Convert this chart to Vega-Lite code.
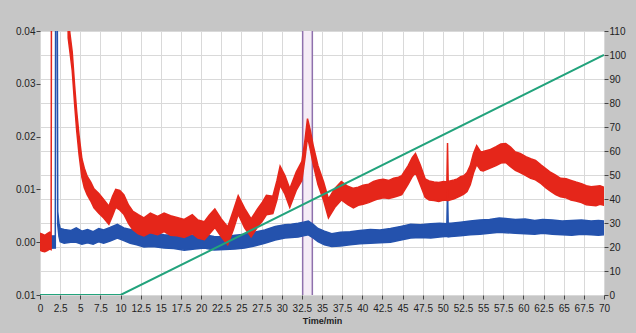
{
  "$schema": "https://vega.github.io/schema/vega-lite/v6.json",
  "width": 564,
  "height": 264,
  "autosize": {"type": "none"},
  "padding": {"left": 40, "top": 31, "right": 32, "bottom": 38},
  "background": "#c6c6c6",
  "config": {
    "view": {"fill": "#ffffff", "stroke": "#8c8c8c"},
    "font": "Liberation Sans",
    "axis": {"labelColor": "#222222", "tickColor": "#444444", "domain": false, "labelFontSize": 10, "gridColor": "#d9d9d9", "gridWidth": 1}
  },
  "datasets": {
    "band": [{"t": 32.6, "t2": 33.8}],
    "markers": [{"t": 32.6}, {"t": 33.8}],
    "green": [{"t": 0, "p": 0}, {"t": 10, "p": 0}, {"t": 70, "p": 100}],
    "red": [
      {"t": 0, "lo": -0.0015, "hi": 0.0017},
      {"t": 0.3, "lo": -0.0017, "hi": 0.0015},
      {"t": 0.6, "lo": -0.0018, "hi": 0.0013},
      {"t": 0.9, "lo": -0.0016, "hi": 0.0016},
      {"t": 1.2, "lo": -0.0013, "hi": 0.0019},
      {"t": 1.38, "lo": -0.0014, "hi": 0.0016},
      {"t": 1.45, "lo": 0.078, "hi": 0.082},
      {"t": 3.4, "lo": 0.058, "hi": 0.062},
      {"t": 3.5, "lo": 0.0387, "hi": 0.0422},
      {"t": 3.75, "lo": 0.0356, "hi": 0.0391},
      {"t": 4.0, "lo": 0.0325, "hi": 0.036},
      {"t": 4.3, "lo": 0.0261, "hi": 0.0296},
      {"t": 4.55, "lo": 0.0212, "hi": 0.0248},
      {"t": 4.85, "lo": 0.0166, "hi": 0.0202},
      {"t": 5.2, "lo": 0.0123, "hi": 0.0158},
      {"t": 5.5, "lo": 0.0103, "hi": 0.014},
      {"t": 5.85, "lo": 0.009, "hi": 0.0125},
      {"t": 6.3, "lo": 0.0078, "hi": 0.0114},
      {"t": 6.7, "lo": 0.0065, "hi": 0.0101},
      {"t": 7.3, "lo": 0.0055, "hi": 0.0092},
      {"t": 7.9, "lo": 0.0046, "hi": 0.0081},
      {"t": 8.55, "lo": 0.0034, "hi": 0.0068},
      {"t": 9.0, "lo": 0.005, "hi": 0.0087},
      {"t": 9.4, "lo": 0.0066, "hi": 0.01},
      {"t": 9.9, "lo": 0.0061, "hi": 0.0098},
      {"t": 10.4, "lo": 0.0053, "hi": 0.009},
      {"t": 11.0, "lo": 0.0035, "hi": 0.007},
      {"t": 11.5, "lo": 0.0024, "hi": 0.0059},
      {"t": 12.2, "lo": 0.0016, "hi": 0.0052},
      {"t": 12.9, "lo": 0.0012, "hi": 0.0046},
      {"t": 13.7, "lo": 0.0018, "hi": 0.0055},
      {"t": 14.6, "lo": 0.0014, "hi": 0.0049},
      {"t": 15.4, "lo": 0.002, "hi": 0.0055},
      {"t": 16.2, "lo": 0.0013, "hi": 0.005},
      {"t": 17.0, "lo": 0.0012, "hi": 0.0047},
      {"t": 17.9, "lo": 0.0009, "hi": 0.0043},
      {"t": 18.9, "lo": 0.0016, "hi": 0.0052},
      {"t": 19.6, "lo": 0.0008, "hi": 0.0042},
      {"t": 20.4, "lo": 0.0005, "hi": 0.0039},
      {"t": 21.0, "lo": 0.0015, "hi": 0.0051},
      {"t": 21.7, "lo": 0.0028, "hi": 0.0063},
      {"t": 22.5, "lo": 0.001, "hi": 0.0044},
      {"t": 23.3, "lo": -0.0005, "hi": 0.0029},
      {"t": 24.0, "lo": 0.0024, "hi": 0.006},
      {"t": 24.6, "lo": 0.0053, "hi": 0.0088},
      {"t": 25.4, "lo": 0.0027, "hi": 0.0064},
      {"t": 26.2, "lo": 0.001, "hi": 0.0044},
      {"t": 27.0, "lo": 0.0029, "hi": 0.0063},
      {"t": 27.6, "lo": 0.004, "hi": 0.0076},
      {"t": 28.1, "lo": 0.0052, "hi": 0.0089},
      {"t": 28.9, "lo": 0.0054, "hi": 0.0087},
      {"t": 29.4, "lo": 0.008, "hi": 0.0116},
      {"t": 29.8, "lo": 0.0108, "hi": 0.0144},
      {"t": 30.4, "lo": 0.0091, "hi": 0.0126},
      {"t": 31.0, "lo": 0.0066, "hi": 0.0101},
      {"t": 31.8, "lo": 0.0098, "hi": 0.0133},
      {"t": 32.5, "lo": 0.0117, "hi": 0.0153},
      {"t": 32.9, "lo": 0.016, "hi": 0.0195},
      {"t": 33.2, "lo": 0.0199, "hi": 0.0234},
      {"t": 33.5, "lo": 0.0179, "hi": 0.0215},
      {"t": 33.9, "lo": 0.0148, "hi": 0.0184},
      {"t": 34.5, "lo": 0.0109, "hi": 0.0145},
      {"t": 35.2, "lo": 0.0079, "hi": 0.0114},
      {"t": 35.8, "lo": 0.0046, "hi": 0.0082},
      {"t": 36.6, "lo": 0.0066, "hi": 0.0102},
      {"t": 37.4, "lo": 0.008, "hi": 0.0115},
      {"t": 38.2, "lo": 0.0071, "hi": 0.0106},
      {"t": 38.9, "lo": 0.0065, "hi": 0.0102},
      {"t": 39.5, "lo": 0.007, "hi": 0.0104},
      {"t": 40.1, "lo": 0.0072, "hi": 0.0108},
      {"t": 40.8, "lo": 0.0075, "hi": 0.011},
      {"t": 41.4, "lo": 0.0079, "hi": 0.0115},
      {"t": 42.0, "lo": 0.0082, "hi": 0.0118},
      {"t": 42.6, "lo": 0.0084, "hi": 0.0119},
      {"t": 43.3, "lo": 0.0083, "hi": 0.0117},
      {"t": 43.9, "lo": 0.0085, "hi": 0.0121},
      {"t": 44.5, "lo": 0.0088, "hi": 0.0123},
      {"t": 44.9, "lo": 0.009, "hi": 0.0126},
      {"t": 45.7, "lo": 0.011, "hi": 0.0145},
      {"t": 46.2, "lo": 0.0124, "hi": 0.016},
      {"t": 46.6, "lo": 0.0132, "hi": 0.0168},
      {"t": 47.2, "lo": 0.0109, "hi": 0.0146},
      {"t": 47.8, "lo": 0.0085, "hi": 0.012},
      {"t": 48.3, "lo": 0.008, "hi": 0.0116},
      {"t": 48.9, "lo": 0.0079, "hi": 0.0114},
      {"t": 49.5, "lo": 0.0077, "hi": 0.0113},
      {"t": 50.1, "lo": 0.008, "hi": 0.0115},
      {"t": 50.5, "lo": 0.0079, "hi": 0.0114},
      {"t": 50.58, "lo": 0.01, "hi": 0.0188},
      {"t": 50.66, "lo": 0.0079, "hi": 0.0115},
      {"t": 51.4, "lo": 0.0082, "hi": 0.0118},
      {"t": 51.8, "lo": 0.0085, "hi": 0.012},
      {"t": 52.2, "lo": 0.0088, "hi": 0.0124},
      {"t": 52.6, "lo": 0.0091, "hi": 0.0126},
      {"t": 53.0, "lo": 0.0096, "hi": 0.0132},
      {"t": 53.4, "lo": 0.0109, "hi": 0.0145},
      {"t": 53.8, "lo": 0.0131, "hi": 0.0168},
      {"t": 54.2, "lo": 0.0147, "hi": 0.0183},
      {"t": 54.7, "lo": 0.0136, "hi": 0.0171},
      {"t": 55.0, "lo": 0.0135, "hi": 0.0172},
      {"t": 55.8, "lo": 0.014, "hi": 0.0175},
      {"t": 56.6, "lo": 0.0145, "hi": 0.0181},
      {"t": 57.2, "lo": 0.015, "hi": 0.0186},
      {"t": 57.8, "lo": 0.0151, "hi": 0.0187},
      {"t": 58.4, "lo": 0.0143, "hi": 0.018},
      {"t": 59.0, "lo": 0.0136, "hi": 0.0171},
      {"t": 59.6, "lo": 0.0132, "hi": 0.0168},
      {"t": 60.3, "lo": 0.0126, "hi": 0.0162},
      {"t": 60.9, "lo": 0.0121, "hi": 0.0158},
      {"t": 61.5, "lo": 0.0118, "hi": 0.0155},
      {"t": 62.2, "lo": 0.0111, "hi": 0.0146},
      {"t": 62.8, "lo": 0.0103, "hi": 0.0139},
      {"t": 63.4, "lo": 0.0096, "hi": 0.0132},
      {"t": 64.0, "lo": 0.009, "hi": 0.0127},
      {"t": 64.6, "lo": 0.0086, "hi": 0.0121},
      {"t": 65.3, "lo": 0.0084, "hi": 0.012},
      {"t": 65.9, "lo": 0.008, "hi": 0.0117},
      {"t": 66.5, "lo": 0.0078, "hi": 0.0114},
      {"t": 67.2, "lo": 0.0075, "hi": 0.0111},
      {"t": 67.8, "lo": 0.0071, "hi": 0.0107},
      {"t": 68.4, "lo": 0.007, "hi": 0.0105},
      {"t": 69.0, "lo": 0.0069, "hi": 0.0106},
      {"t": 69.5, "lo": 0.0072, "hi": 0.0107},
      {"t": 70.0, "lo": 0.007, "hi": 0.0104}
    ],
    "blue": [
      {"t": 0, "lo": -0.0012, "hi": 0.0011},
      {"t": 1.9, "lo": -0.0011, "hi": 0.0012},
      {"t": 1.97, "lo": 0.078, "hi": 0.082},
      {"t": 2.1, "lo": 0.078, "hi": 0.082},
      {"t": 2.2, "lo": 0.0033, "hi": 0.0058},
      {"t": 2.35, "lo": 0.0011, "hi": 0.0036},
      {"t": 2.5, "lo": 0.0001, "hi": 0.0026},
      {"t": 3.0, "lo": -0.0002, "hi": 0.0024},
      {"t": 3.8, "lo": 0.0, "hi": 0.0022},
      {"t": 4.5, "lo": 0.0, "hi": 0.0027},
      {"t": 5.2, "lo": -0.0004, "hi": 0.0021},
      {"t": 5.9, "lo": -0.0001, "hi": 0.0024},
      {"t": 6.6, "lo": -0.0004, "hi": 0.002},
      {"t": 7.3, "lo": 0.0001, "hi": 0.0026},
      {"t": 7.9, "lo": -0.0002, "hi": 0.0023},
      {"t": 8.7, "lo": 0.0002, "hi": 0.0028},
      {"t": 9.6, "lo": 0.0008, "hi": 0.0034},
      {"t": 10.4, "lo": 0.0003, "hi": 0.0027},
      {"t": 11.2, "lo": -0.0002, "hi": 0.0024},
      {"t": 12.0, "lo": -0.0005, "hi": 0.0021},
      {"t": 12.9, "lo": -0.0009, "hi": 0.0016},
      {"t": 14.0, "lo": -0.0008, "hi": 0.0018},
      {"t": 15.4, "lo": -0.0011, "hi": 0.0014},
      {"t": 16.6, "lo": -0.0012, "hi": 0.0013},
      {"t": 17.9, "lo": -0.0015, "hi": 0.001},
      {"t": 19.2, "lo": -0.0013, "hi": 0.0014},
      {"t": 20.4, "lo": -0.0011, "hi": 0.0014},
      {"t": 21.6, "lo": -0.0015, "hi": 0.0011},
      {"t": 22.9, "lo": -0.0014, "hi": 0.001},
      {"t": 24.2, "lo": -0.0013, "hi": 0.0013},
      {"t": 25.4, "lo": -0.0011, "hi": 0.0015},
      {"t": 26.6, "lo": -0.0007, "hi": 0.0019},
      {"t": 27.9, "lo": -0.0002, "hi": 0.0023},
      {"t": 29.2, "lo": 0.0004, "hi": 0.003},
      {"t": 30.4, "lo": 0.0008, "hi": 0.0033},
      {"t": 31.2, "lo": 0.0009, "hi": 0.0034},
      {"t": 32.05, "lo": 0.001, "hi": 0.0036},
      {"t": 32.7, "lo": 0.0012, "hi": 0.0038},
      {"t": 33.3, "lo": 0.0014, "hi": 0.004},
      {"t": 33.9, "lo": 0.0008, "hi": 0.0034},
      {"t": 34.5, "lo": 0.0001, "hi": 0.0026},
      {"t": 35.3, "lo": -0.0005, "hi": 0.0021},
      {"t": 36.2, "lo": -0.0008, "hi": 0.0016},
      {"t": 37.3, "lo": -0.0007, "hi": 0.0019},
      {"t": 38.5, "lo": -0.0005, "hi": 0.002},
      {"t": 39.7, "lo": -0.0003, "hi": 0.0022},
      {"t": 41.0, "lo": -0.0002, "hi": 0.0024},
      {"t": 42.2, "lo": -0.0001, "hi": 0.0023},
      {"t": 43.5, "lo": 0.0, "hi": 0.0026},
      {"t": 44.8, "lo": 0.0004, "hi": 0.003},
      {"t": 46.0, "lo": 0.0008, "hi": 0.0034},
      {"t": 47.2, "lo": 0.0009, "hi": 0.0033},
      {"t": 48.5, "lo": 0.0008, "hi": 0.0035},
      {"t": 49.6, "lo": 0.001, "hi": 0.0036},
      {"t": 50.5, "lo": 0.0011, "hi": 0.0035},
      {"t": 50.58, "lo": 0.0015, "hi": 0.0098},
      {"t": 50.66, "lo": 0.001, "hi": 0.0036},
      {"t": 51.0, "lo": 0.0011, "hi": 0.0036},
      {"t": 52.2, "lo": 0.0012, "hi": 0.0038},
      {"t": 53.4, "lo": 0.0014, "hi": 0.004},
      {"t": 54.6, "lo": 0.0015, "hi": 0.0042},
      {"t": 55.8, "lo": 0.0017, "hi": 0.0043},
      {"t": 57.0, "lo": 0.0019, "hi": 0.0046},
      {"t": 57.8, "lo": 0.0018, "hi": 0.0045},
      {"t": 59.0, "lo": 0.0017, "hi": 0.0043},
      {"t": 60.2, "lo": 0.0016, "hi": 0.0044},
      {"t": 61.4, "lo": 0.0015, "hi": 0.0041},
      {"t": 62.4, "lo": 0.0017, "hi": 0.0043},
      {"t": 63.6, "lo": 0.0015, "hi": 0.0042},
      {"t": 64.8, "lo": 0.0014, "hi": 0.004},
      {"t": 66.0, "lo": 0.0013, "hi": 0.0041},
      {"t": 67.2, "lo": 0.0015, "hi": 0.0042},
      {"t": 68.4, "lo": 0.0014, "hi": 0.004},
      {"t": 69.3, "lo": 0.0013, "hi": 0.0041},
      {"t": 70.0, "lo": 0.0014, "hi": 0.004}
    ]
  },
  "encoding": {
    "x": {
      "field": "t", "type": "quantitative",
      "scale": {"domain": [0, 70], "nice": false, "zero": false},
      "axis": {
        "orient": "bottom",
        "values": [0, 2.5, 5, 7.5, 10, 12.5, 15, 17.5, 20, 22.5, 25, 27.5, 30, 32.5, 35, 37.5, 40, 42.5, 45, 47.5, 50, 52.5, 55, 57.5, 60, 62.5, 65, 67.5, 70],
        "format": ".1~f",
        "labelOverlap": false, "labelFlush": false, "labelFontSize": 10,
        "tickSize": 4, "labelPadding": 4, "grid": true,
        "title": "Time/min", "titleFontSize": 9, "titleFontWeight": "bold", "titlePadding": 3, "titleColor": "#222222"
      }
    }
  },
  "layer": [
    {
      "data": {"name": "band"},
      "mark": {"type": "rect", "color": "#f5ecf6"},
      "encoding": {"x2": {"field": "t2"}}
    },
    {
      "data": {"name": "markers"},
      "mark": {"type": "rule", "color": "#8f70ad", "strokeWidth": 1.5},
      "encoding": {}
    },
    {
      "data": {"name": "blue"},
      "mark": {"type": "area", "color": "#2452ad", "stroke": "#2452ad", "strokeWidth": 1.5, "clip": true, "opacity": 1},
      "encoding": {
        "y": {"field": "lo", "type": "quantitative", "scale": {"domain": [-0.01, 0.04], "nice": false, "zero": false}, "axis": null},
        "y2": {"field": "hi"}
      }
    },
    {
      "data": {"name": "red"},
      "mark": {"type": "area", "color": "#e5261a", "stroke": "#e5261a", "strokeWidth": 1.5, "clip": true, "opacity": 1},
      "encoding": {
        "y": {
          "field": "lo", "type": "quantitative",
          "scale": {"domain": [-0.01, 0.04], "nice": false, "zero": false},
          "axis": {"orient": "left", "values": [-0.01, 0, 0.01, 0.02, 0.03, 0.04], "labelExpr": "format(abs(datum.value), '.2f')", "tickSize": 4, "labelPadding": 1, "grid": false, "title": null, "labelFontSize": 10}
        },
        "y2": {"field": "hi"}
      }
    },
    {
      "data": {"name": "green"},
      "mark": {"type": "line", "color": "#22a37c", "strokeWidth": 2, "clip": true},
      "encoding": {
        "y": {
          "field": "p", "type": "quantitative",
          "scale": {"domain": [0, 110], "nice": false, "zero": false},
          "axis": {"orient": "right", "values": [0, 10, 20, 30, 40, 50, 60, 70, 80, 90, 100, 110], "tickSize": 4, "labelPadding": 1, "grid": true, "title": null, "labelFontSize": 10}
        }
      }
    }
  ],
  "resolve": {"scale": {"y": "independent"}}
}
